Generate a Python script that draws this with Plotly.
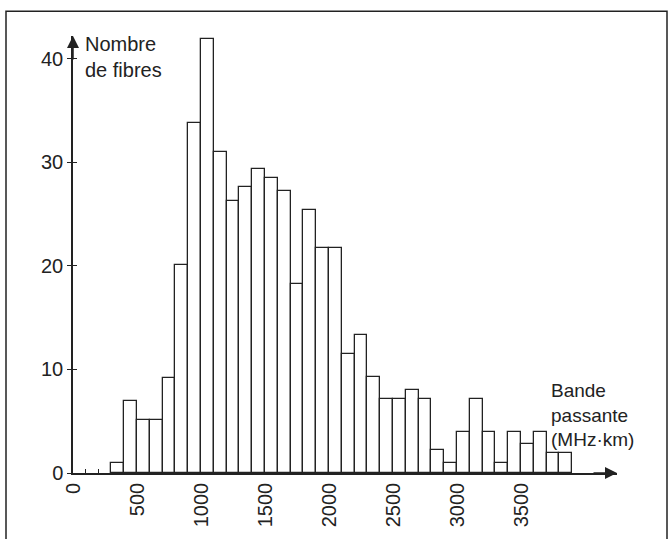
import plotly.graph_objects as go

# Data (bins of 100 MHz·km)
bin_starts = [300, 400, 500, 600, 700, 800, 900, 1000, 1100, 1200, 1300, 1400,
              1500, 1600, 1700, 1800, 1900, 2000, 2100, 2200, 2300, 2400, 2500,
              2600, 2700, 2800, 2900, 3000, 3100, 3200, 3300, 3400, 3500, 3600,
              3700, 3800]
counts = [1.0, 7.0, 5.1, 5.1, 9.2, 20.1, 33.8, 41.9, 31.0, 26.3, 27.6, 29.4,
          28.5, 27.2, 18.3, 25.4, 21.7, 21.7, 11.5, 13.3, 9.3, 7.1, 7.1,
          8.0, 7.1, 2.2, 1.0, 4.0, 7.1, 4.0, 1.0, 4.0, 2.8, 4.0,
          1.9, 1.9]
bin_width = 100
x_ticks = [0, 500, 1000, 1500, 2000, 2500, 3000, 3500]
y_ticks = [0, 10, 20, 30, 40]
x_minor_ticks = [100, 200]

X_MAX = 4250
Y_MAX = 42.2

INK = "#222222"
FONT = "Liberation Sans, Arial, Helvetica, sans-serif"

W, H = 671, 539
ML, MR, MT, MB = 73, 54, 36, 62
PW = W - ML - MR
PH = H - MT - MB


def px(xp):
    return (xp - ML) / PW


def py(yp):
    return (H - MB - yp) / PH


centers = [b + bin_width / 2 for b in bin_starts]

fig = go.Figure()
fig.add_trace(go.Bar(
    x=centers, y=counts, width=bin_width,
    marker=dict(color="white", line=dict(color=INK, width=1.3)),
    hoverinfo="skip", showlegend=False,
))
# helper trace for overlay axes (cross ticks)
fig.add_trace(go.Scatter(x=[0], y=[0], xaxis="x2", yaxis="y2",
                         mode="markers", marker=dict(opacity=0),
                         hoverinfo="skip", showlegend=False))

fig.update_layout(
    width=W, height=H,
    margin=dict(l=ML, r=MR, t=MT, b=MB, pad=0),
    paper_bgcolor="white", plot_bgcolor="white",
    font=dict(family=FONT, size=20, color=INK),
    bargap=0,
    xaxis=dict(range=[0, X_MAX], showgrid=False, zeroline=False,
               showline=True, linecolor=INK, linewidth=1.5,
               tickvals=x_ticks, ticks="", tickangle=-90,
               tickfont=dict(size=20, color=INK)),
    yaxis=dict(range=[0, Y_MAX], showgrid=False, zeroline=False,
               showline=True, linecolor=INK, linewidth=1.5,
               tickvals=y_ticks, ticks="outside", ticklen=4, tickwidth=1.3,
               tickcolor=INK, tickfont=dict(size=20, color=INK)),
    xaxis2=dict(range=[0, X_MAX], overlaying="x", side="bottom",
                showgrid=False, zeroline=False, showline=False,
                tickvals=x_minor_ticks, ticks="inside", ticklen=4,
                tickwidth=1.3, tickcolor=INK, showticklabels=False),
    yaxis2=dict(range=[0, Y_MAX], overlaying="y", side="left",
                showgrid=False, zeroline=False, showline=False,
                tickvals=y_ticks, ticks="inside", ticklen=4,
                tickwidth=1.3, tickcolor=INK, showticklabels=False),
)

# axis arrows
fig.add_annotation(x=X_MAX, y=0, xref="x", yref="y", ax=-25, ay=0,
                   text="", showarrow=True, arrowhead=2, arrowsize=1.6,
                   arrowwidth=1.5, arrowcolor=INK)
fig.add_annotation(x=0, y=Y_MAX, xref="x", yref="y", ax=0, ay=25,
                   text="", showarrow=True, arrowhead=2, arrowsize=1.6,
                   arrowwidth=1.5, arrowcolor=INK)

# axis titles (multi-line text blocks)
fig.add_annotation(x=px(83), y=py(31), xref="paper", yref="paper",
                   text="Nombre<br>de fibres", showarrow=False,
                   xanchor="left", yanchor="top", align="left",
                   font=dict(size=20, color=INK))
fig.add_annotation(x=px(549), y=py(381), xref="paper", yref="paper",
                   text="Bande<br>passante<br>(MHz·km)", showarrow=False,
                   xanchor="left", yanchor="top", align="left",
                   font=dict(size=19, color=INK))

# page frame
fig.add_shape(type="rect", xref="paper", yref="paper",
              x0=px(6), x1=px(667), y0=py(560), y1=py(11),
              line=dict(color=INK, width=1.5), layer="below")

fig.write_html(
    "out.html",
    config={"displayModeBar": False},
    post_script="document.body.style.margin='0px';"
                "document.body.style.overflow='hidden';",
)
